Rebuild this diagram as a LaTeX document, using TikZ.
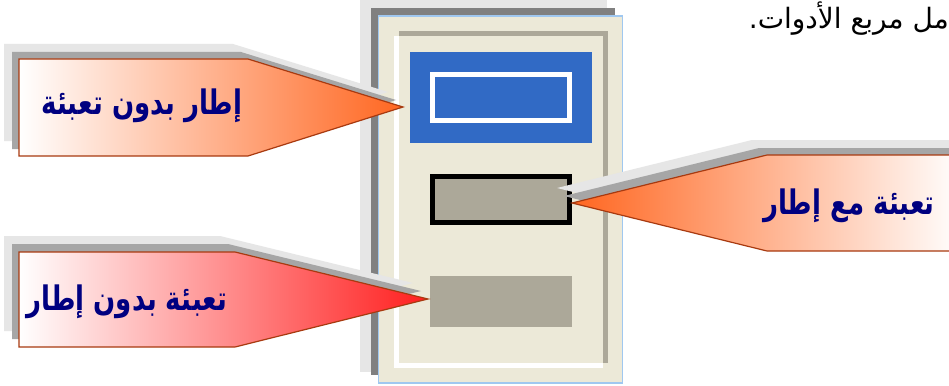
\documentclass[tikz,border=0pt]{standalone}
\usepackage{fontspec}
\usetikzlibrary{calc}
\newfontfamily\arabicfont[Script=Arabic]{DejaVu Sans}
\TeXXeTstate=1
\definecolor{beige}{HTML}{ECE9D8}
\definecolor{xpgray}{HTML}{ACA899}
\definecolor{xpblue}{HTML}{316AC5}
\definecolor{paneledge}{HTML}{A0C8F0}
\definecolor{shadowdark}{HTML}{A6A6A6}
\definecolor{shadowlight}{HTML}{E6E6E6}
\definecolor{calloutedge}{HTML}{A83A10}
\definecolor{orangetip}{HTML}{FF6620}
\definecolor{redtip}{HTML}{FF1E1E}
\definecolor{salmon}{HTML}{FFC4B4}
\definecolor{pink}{HTML}{FFC0C0}
\definecolor{navytext}{HTML}{000080}
\newcommand{\tallar}[1]{\scalebox{1}[1.3]{\beginR #1\endR}}
\tikzset{
  calloutbox/.style={draw=calloutedge, line width=1.2pt},
  shadowA/.style={fill=shadowlight},
  shadowB/.style={fill=shadowdark},
  labeltext/.style={font=\arabicfont\bfseries\fontsize{26}{30}\selectfont, text=navytext, inner sep=0},
  fillrect/.style={fill=xpgray, inner sep=0, minimum width=142, minimum height=51},
}
\begin{document}
\begin{tikzpicture}[x=1pt,y=-1pt]
\useasboundingbox (0,0) rectangle (949,385);
\clip (0,0) rectangle (949,385);
\fill[white] (0,0) rectangle (949,385);

% panel with its shadows
\fill[shadowlight] (360,0) rectangle (607,372);
\fill[gray] (371,8) rectangle (615,375);
\node[draw=paneledge, fill=beige, line width=1.5pt, inner sep=0, minimum width=244, minimum height=367] (panel) at (500.5,199.5) {};
\fill[white] (394,36) rectangle (603,368);
\fill[xpgray] (399,31) rectangle (608,363);
\fill[beige] (399,36) rectangle (603,363);

% sample boxes
\node[fill=xpblue, inner sep=0, minimum width=182, minimum height=91] (blue) at (501,97.5) {};
\node[draw=white, line width=5pt, inner sep=0, minimum width=137, minimum height=46] (frame) at (501,97.5) {};
\node[fillrect, draw=black, line width=5pt, minimum width=137, minimum height=46] (framed) at (501,199.5) {};
\node[fillrect] (plain) at (501,301.5) {};

% tips of the callouts
\coordinate (tip1) at (403,107);
\coordinate (tip2) at (572,203);
\coordinate (tip3) at (428,299);

% callout 1
\fill[shadowA] (4,44) -- (233,44) -- ($(tip1)+(-15,-15)$) -- (233,141) -- (4,141) -- cycle;
\fill[shadowB] (12,52) -- (241,52) -- ($(tip1)+(-7,-7)$) -- (241,149) -- (12,149) -- cycle;
\shadedraw[calloutbox, left color=white, middle color=salmon, right color=orangetip] (19,59) -- (248,59) -- (tip1) -- (248,156) -- (19,156) -- cycle;
\node[labeltext] (t1) at (142,106) {\tallar{إطار بدون تعبئة}};

% callout 2
\fill[shadowA] (752,140) -- (960,140) -- (960,236) -- (752,236) -- ($(tip2)+(-15,-15)$) -- cycle;
\fill[shadowB] (759,148) -- (960,148) -- (960,244) -- (759,244) -- ($(tip2)+(-8,-7)$) -- cycle;
\shadedraw[calloutbox, left color=orangetip, middle color=salmon, right color=white] (tip2) -- (767,155) -- (962,155) -- (962,251) -- (767,251) -- cycle;
\node[labeltext] (t2) at (849,206) {\tallar{تعبئة مع إطار}};

% callout 3
\fill[shadowA] (4,236) -- (220,236) -- ($(tip3)+(-15,-16)$) -- (220,331) -- (4,331) -- cycle;
\fill[shadowB] (12,244) -- (228,244) -- ($(tip3)+(-7,-8)$) -- (228,339) -- (12,339) -- cycle;
\shadedraw[calloutbox, left color=white, middle color=pink, right color=redtip] (19,252) -- (235,252) -- (tip3) -- (235,347) -- (19,347) -- cycle;
\node[labeltext] (t3) at (127,302) {\tallar{تعبئة بدون إطار}};

% top text, cut at the right edge
\node[anchor=east, inner sep=0, font=\arabicfont\fontsize{28}{32}\selectfont] (top) at (949,19) {\beginR مل مربع الأدوات.\endR};
\end{tikzpicture}
\end{document}
